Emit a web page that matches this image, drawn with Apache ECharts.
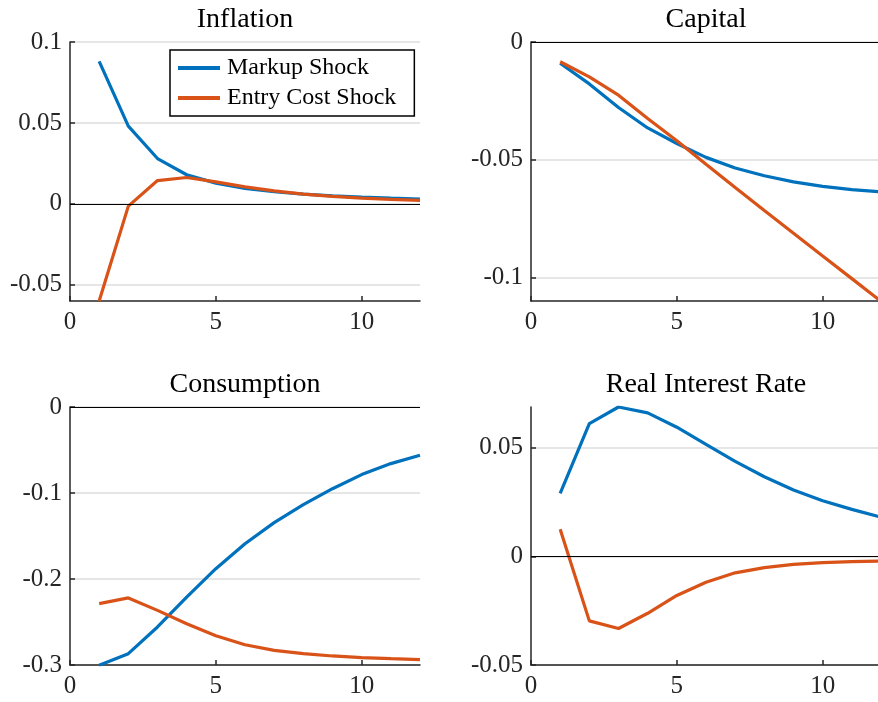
<!DOCTYPE html>
<html>
<head>
<meta charset="utf-8">
<script src="https://cdn.jsdelivr.net/npm/echarts@6/dist/echarts.min.js"></script>
<style>
  html, body { margin: 0; padding: 0; background: #fff; }
  #chart { width: 878px; height: 702px; }
</style>
</head>
<body>
<div id="chart"></div>
<script>
// periods after the shock
const steps = [1, 2, 3, 4, 5, 6, 7, 8, 9, 10, 11, 12];

// impulse responses
const inflationMarkup = [0.088, 0.048, 0.028, 0.018, 0.0128, 0.0095, 0.0075, 0.006, 0.005, 0.0042, 0.0035, 0.003];
const inflationEntry = [-0.06, -0.0014, 0.0144, 0.0163, 0.0136, 0.0105, 0.008, 0.006, 0.0046, 0.0036, 0.0028, 0.0022];

const capitalMarkup = [-0.009, -0.0178, -0.0278, -0.0365, -0.0431, -0.049, -0.0535, -0.0568, -0.0594, -0.0613, -0.0627, -0.0636];
const capitalEntry = [-0.0084, -0.0148, -0.0226, -0.0325, -0.0419, -0.0519, -0.0618, -0.0716, -0.0812, -0.0909, -0.1005, -0.1101];

const consumptionMarkup = [-0.3004, -0.2868, -0.2558, -0.221, -0.188, -0.159, -0.1345, -0.1135, -0.095, -0.0786, -0.0658, -0.0562];
const consumptionEntry = [-0.2287, -0.222, -0.2365, -0.252, -0.266, -0.2764, -0.283, -0.2868, -0.2895, -0.2915, -0.2927, -0.2938];

const rateMarkup = [0.029, 0.061, 0.0687, 0.066, 0.0594, 0.0515, 0.0437, 0.0366, 0.0305, 0.0256, 0.0216, 0.018];
const rateEntry = [0.0125, -0.0297, -0.0332, -0.0262, -0.018, -0.0119, -0.0076, -0.0052, -0.0037, -0.0029, -0.0024, -0.0022];

// tick labels
const xTicks = [0, 5, 10];
const inflationTicks = [-0.05, 0, 0.05, 0.1];
const capitalTicks = [-0.1, -0.05, 0];
const consumptionTicks = [-0.3, -0.2, -0.1, 0];
const rateTicks = [-0.05, 0, 0.05];

const seriesNames = ['Markup Shock', 'Entry Cost Shock'];
const colors = ['#0072BD', '#D95319'];
const font = '"Liberation Serif", "Times New Roman", serif';
const axisColor = '#262626';

const panels = [
  { title: 'Inflation', left: 70, top: 42, height: 259, min: -0.06, max: 0.1, ticks: inflationTicks, lines: [inflationMarkup, inflationEntry] },
  { title: 'Capital', left: 531, top: 42, height: 259, min: -0.11, max: 0, ticks: capitalTicks, lines: [capitalMarkup, capitalEntry] },
  { title: 'Consumption', left: 70, top: 407, height: 258, min: -0.3, max: 0, ticks: consumptionTicks, lines: [consumptionMarkup, consumptionEntry] },
  { title: 'Real Interest Rate', left: 531, top: 407, height: 258, min: -0.05, max: 0.0687, ticks: rateTicks, lines: [rateMarkup, rateEntry] }
];
const plotWidth = 350;

function pairs(values) {
  return steps.map((s, i) => [s, values[i]]);
}

let grids = [], xAxes = [], yAxes = [], titles = [], series = [];
panels.forEach((p, i) => {
  grids.push({ left: p.left, top: p.top, width: plotWidth, height: p.height, outerBoundsMode: 'none' });
  titles.push({
    text: p.title,
    left: p.left + plotWidth / 2,
    top: p.top - 36,
    textAlign: 'center',
    padding: 0,
    textStyle: { fontFamily: font, fontSize: 28, fontWeight: 'normal', color: '#000' }
  });
  xAxes.push({
    type: 'value', gridIndex: i, min: 0, max: 12,
    axisLine: { show: true, onZero: false, lineStyle: { color: axisColor, width: 1.5 } },
    axisTick: { show: true, inside: true, length: 5, customValues: xTicks, lineStyle: { color: axisColor, width: 1.5 } },
    axisLabel: { customValues: xTicks, margin: 9, fontFamily: font, fontSize: 25, color: axisColor },
    splitLine: { show: false }
  });
  yAxes.push({
    type: 'value', gridIndex: i, min: p.min, max: p.max,
    axisLine: { show: true, onZero: false, lineStyle: { color: axisColor, width: 1.5 } },
    axisTick: { show: true, inside: true, length: 5, customValues: p.ticks, lineStyle: { color: axisColor, width: 1.5 } },
    axisLabel: { customValues: p.ticks, margin: 8, fontFamily: font, fontSize: 25, color: axisColor },
    splitLine: { show: true, lineStyle: { color: '#dedede', width: 1.5 } }
  });
  p.lines.forEach((vals, k) => {
    let s = {
      name: seriesNames[k],
      type: 'line',
      xAxisIndex: i,
      yAxisIndex: i,
      data: pairs(vals),
      symbol: 'none',
      color: colors[k],
      lineStyle: { width: 3.2, color: colors[k] },
      z: 3 + k
    };
    if (k === 0) {
      // zero line
      s.markLine = {
        silent: true, symbol: 'none', label: { show: false },
        lineStyle: { color: '#000', width: 1.2, type: 'solid' },
        data: [{ yAxis: 0 }]
      };
    }
    series.push(s);
  });
});

const chart = echarts.init(document.getElementById('chart'));
chart.setOption({
  animation: false,
  title: titles,
  legend: {
    data: seriesNames,
    orient: 'vertical',
    left: 170,
    top: 50,
    padding: [6, 18, 6, 8],
    itemGap: 6,
    itemWidth: 42,
    itemHeight: 4,
    icon: 'rect',
    backgroundColor: '#fff',
    borderColor: '#000',
    borderWidth: 1.5,
    borderRadius: 0,
    textStyle: { fontFamily: font, fontSize: 24, color: '#000', padding: [0, 0, 0, 2] }
  },
  grid: grids,
  xAxis: xAxes,
  yAxis: yAxes,
  series: series
});
</script>
</body>
</html>
